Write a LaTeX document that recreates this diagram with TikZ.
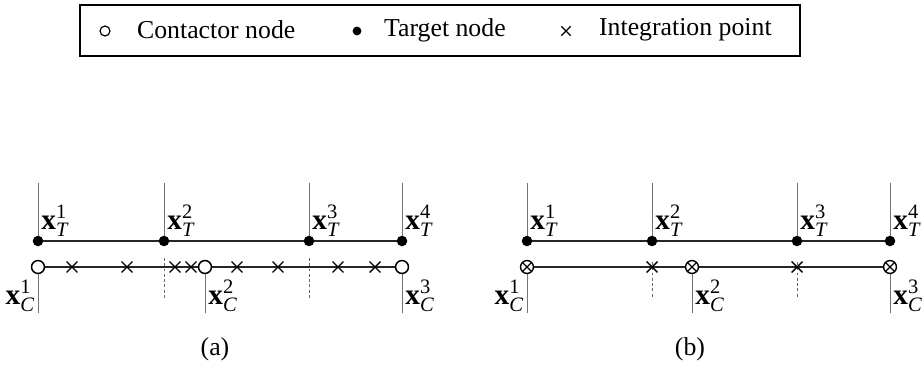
\documentclass[tikz,border=0pt]{standalone}
\usepackage{fontspec}
\setmainfont{Liberation Serif}
\usetikzlibrary{shapes.misc}
\begin{document}
\begin{tikzpicture}[x=0.03cm,y=-0.03cm,
  every node/.style={font=\fontsize{22}{26}\selectfont},
  tnode/.style={circle,fill=black,inner sep=0pt,minimum size=9pt},
  cnode/.style={circle,draw=black,fill=white,line width=1.3pt,inner sep=0pt,minimum size=11pt},
  oxnode/.style={circle,draw=black,fill=white,line width=1.2pt,inner sep=0pt,minimum size=11pt,
    path picture={\draw[line width=1.1pt]
      (path picture bounding box.north west) -- (path picture bounding box.south east)
      (path picture bounding box.south west) -- (path picture bounding box.north east);}},
  xnode/.style={cross out,draw=black,line width=1.2pt,inner sep=0pt,minimum size=8pt},
  bar/.style={line width=1.3pt,black!85},
  guide/.style={line width=0.7pt,black!55},
  gap/.style={line width=0.6pt,black!60,dash pattern=on 2.5pt off 2pt},
  lbl/.style={inner sep=1pt,font=\fontsize{25}{29}\selectfont}]
\useasboundingbox (0,0) rectangle (924,369);

% legend
\node[draw,line width=1.2pt,minimum width=720*0.8536pt,minimum height=51*0.8536pt,inner sep=0pt]
  (legend) at (440,30.5) {};
\node[circle,draw,line width=1pt,inner sep=0pt,minimum size=8.5pt] (lc) at (105,31) {};
\node[anchor=west] (ltc) at (133,30) {Contactor node};
\node[circle,fill=black,inner sep=0pt,minimum size=7.5pt] (lt) at (357,31) {};
\node[anchor=west] (ltt) at (380,30) {Target node};
\node[cross out,draw,line width=1pt,inner sep=0pt,minimum size=7pt] (lx) at (566,31) {};
\node[anchor=west] (ltx) at (595,30) {Integration point};

% ---------- (a) ----------
\foreach \n/\x in {1/38,2/164,3/309,4/402}{
  \coordinate (Ta\n) at (\x,241);
  \coordinate (Ta\n top) at (\x,183);
  \draw[guide] (Ta\n top) -- (Ta\n);
}
\foreach \n/\x in {1/38,2/205,3/402}{
  \coordinate (Ca\n) at (\x,267);
  \coordinate (Ca\n bot) at (\x,313);
  \draw[guide] (Ca\n) -- (Ca\n bot);
}
\foreach \n/\x in {2/164,3/309}{
  \coordinate (Ga\n top) at (\x,258);
  \coordinate (Ga\n bot) at (\x,298);
  \draw[gap] (Ga\n top) -- (Ga\n bot);
}
\draw[bar] (Ta1) -- (Ta4);
\draw[bar] (Ca1) -- (Ca3);
\foreach \n in {1,...,4} \node[tnode] (TAn\n) at (Ta\n) {};
\foreach \n in {1,...,3} \node[cnode] (CAn\n) at (Ca\n) {};
\foreach \x [count=\i] in {72,127,175,191,237,278,338,375}
  \node[xnode] (IPa\i) at (\x,267) {};
\foreach \n/\x in {1/38,2/164,3/309,4/402}
  \node[lbl,anchor=west] (LTa\n) at (\x+2,221) {$\mathbf{x}_{\mathit{T}}^{\mathrm{\n}}$};
\node[lbl,anchor=east] (LCa1) at (36,296) {$\mathbf{x}_{\mathit{C}}^{\mathrm{1}}$};
\node[lbl,anchor=west] (LCa2) at (207,296) {$\mathbf{x}_{\mathit{C}}^{\mathrm{2}}$};
\node[lbl,anchor=west] (LCa3) at (404,296) {$\mathbf{x}_{\mathit{C}}^{\mathrm{3}}$};
\node (capa) at (215,349) {(a)};

% ---------- (b) ----------
\foreach \n/\x in {1/527,2/652,3/797,4/890}{
  \coordinate (Tb\n) at (\x,241);
  \coordinate (Tb\n top) at (\x,183);
  \draw[guide] (Tb\n top) -- (Tb\n);
}
\foreach \n/\x in {1/527,2/692,3/890}{
  \coordinate (Cb\n) at (\x,267);
  \coordinate (Cb\n bot) at (\x,313);
  \draw[guide] (Cb\n) -- (Cb\n bot);
}
\foreach \n/\x in {2/652,3/797}{
  \coordinate (Gb\n top) at (\x,262);
  \coordinate (Gb\n bot) at (\x,298);
  \draw[gap] (Gb\n top) -- (Gb\n bot);
}
\draw[bar] (Tb1) -- (Tb4);
\draw[bar] (Cb1) -- (Cb3);
\foreach \n in {1,...,4} \node[tnode] (TBn\n) at (Tb\n) {};
\foreach \n in {1,...,3} \node[oxnode] (CBn\n) at (Cb\n) {};
\node[xnode] (IPb1) at (652,267) {};
\node[xnode] (IPb2) at (797,267) {};
\foreach \n/\x in {1/527,2/652,3/797,4/890}
  \node[lbl,anchor=west] (LTb\n) at (\x+2,221) {$\mathbf{x}_{\mathit{T}}^{\mathrm{\n}}$};
\node[lbl,anchor=east] (LCb1) at (525,296) {$\mathbf{x}_{\mathit{C}}^{\mathrm{1}}$};
\node[lbl,anchor=west] (LCb2) at (694,296) {$\mathbf{x}_{\mathit{C}}^{\mathrm{2}}$};
\node[lbl,anchor=west] (LCb3) at (892,296) {$\mathbf{x}_{\mathit{C}}^{\mathrm{3}}$};
\node (capb) at (690,349) {(b)};
\end{tikzpicture}
\end{document}
